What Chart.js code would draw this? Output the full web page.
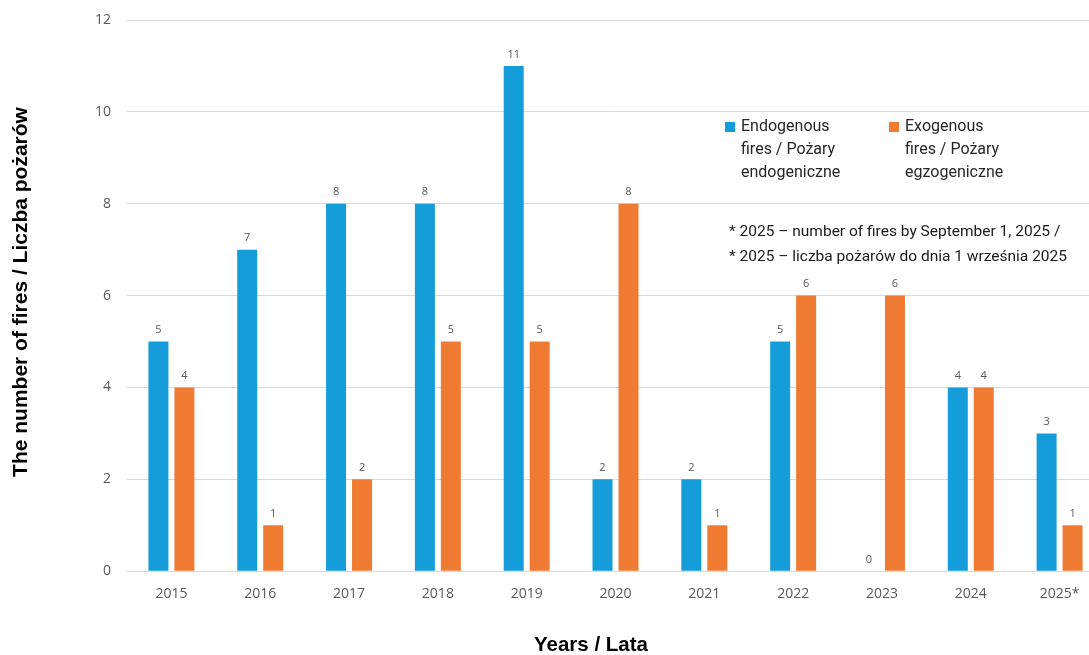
<!DOCTYPE html>
<html>
<head>
<meta charset="utf-8">
<script src="https://cdn.jsdelivr.net/npm/chart.js@4.4.1/dist/chart.umd.min.js"></script>
<style>
  html, body { margin: 0; padding: 0; background: #fff; overflow: hidden; }
  #wrap { width: 1105px; height: 655px; }
</style>
</head>
<body>
<div id="wrap"><canvas id="chart1" width="1105" height="655"></canvas></div>
<script>
// categories and values
const years = ['2015', '2016', '2017', '2018', '2019', '2020', '2021', '2022', '2023', '2024', '2025*'];
const endogenous = [5, 7, 8, 8, 11, 2, 2, 5, 0, 4, 3];
const exogenous = [4, 1, 2, 5, 5, 8, 1, 6, 6, 4, 1];
const yTicks = [0, 2, 4, 6, 8, 10, 12];

const seriesNames = [
    ['Endogenous', 'fires / Pożary', 'endogeniczne'],
    ['Exogenous', 'fires / Pożary', 'egzogeniczne']
];
const footnote = [
    '* 2025 \u2013 number of fires by September 1, 2025 /',
    '* 2025 \u2013 liczba pożarów do dnia 1 września 2025'
];
const yTitle = 'The number of fires / Liczba pożarów';
const xTitle = 'Years / Lata';

const blue = '#149dd8';
const orange = '#ef7b32';
const tickColor = '#595959';

// value labels above bars
const valueLabels = {
    id: 'valueLabels',
    afterDatasetsDraw(chart) {
        const ctx = chart.ctx;
        ctx.save();
        ctx.font = '11px "Open Sans"';
        ctx.fillStyle = tickColor;
        ctx.textAlign = 'center';
        ctx.textBaseline = 'bottom';
        chart.data.datasets.forEach((ds, i) => {
            chart.getDatasetMeta(i).data.forEach((bar, j) => {
                ctx.fillText(ds.data[j], bar.x, bar.y - 6);
            });
        });
        ctx.restore();
    }
};

// legend, footnote and axis titles
const annotations = {
    id: 'annotations',
    afterDraw(chart) {
        const ctx = chart.ctx;
        ctx.save();
        ctx.textBaseline = 'middle';
        ctx.textAlign = 'left';
        ctx.font = '16px Roboto';
        const legendX = [725, 889];
        chart.data.datasets.forEach((ds, i) => {
            ctx.fillStyle = ds.backgroundColor;
            ctx.fillRect(legendX[i], 122, 10, 10);
            ctx.fillStyle = '#262626';
            seriesNames[i].forEach((line, k) => {
                ctx.fillText(line, legendX[i] + 16, 127 + k * 23);
            });
        });
        ctx.font = '15.5px Roboto';
        ctx.fillStyle = '#1a1a1a';
        footnote.forEach((line, k) => {
            ctx.fillText(line, 729, 232 + k * 25);
        });

        ctx.fillStyle = '#000';
        ctx.textAlign = 'center';
        ctx.font = 'bold 20.5px "Liberation Sans"';
        ctx.fillText(xTitle, 591, 645);
        ctx.font = 'bold 21px "Liberation Sans"';
        ctx.translate(21, 292);
        ctx.rotate(-Math.PI / 2);
        ctx.fillText(yTitle, 0, 0);
        ctx.restore();
    }
};

const data = {
    labels: years,
    datasets: [{
        label: seriesNames[0].join(' '),
        data: endogenous,
        backgroundColor: blue
    }, {
        label: seriesNames[1].join(' '),
        data: exogenous,
        backgroundColor: orange
    }]
};

const config = {
    type: 'bar',
    data: data,
    options: {
        responsive: false,
        animation: false,
        categoryPercentage: 0.585,
        barPercentage: 0.77,
        layout: {
            padding: { left: 79, right: 1, top: 20, bottom: 47 }
        },
        scales: {
            x: {
                grid: { display: false },
                border: { color: '#d9d9d9', width: 1 },
                ticks: {
                    color: tickColor,
                    font: { family: 'Open Sans', size: 14 },
                    padding: 6,
                    maxRotation: 0
                }
            },
            y: {
                min: 0,
                max: 12,
                afterBuildTicks(axis) {
                    axis.ticks = yTicks.map(v => ({ value: v }));
                },
                afterFit(axis) {
                    axis.paddingTop = 0;
                    axis.paddingBottom = 0;
                },
                grid: { color: '#d9d9d9', drawTicks: false },
                border: { display: false },
                ticks: {
                    color: tickColor,
                    font: { family: 'Open Sans', size: 14 },
                    padding: 16
                }
            }
        },
        plugins: {
            legend: { display: false },
            tooltip: { enabled: false }
        }
    },
    plugins: [valueLabels, annotations]
};

const chart = document.getElementById('chart1');
new Chart(chart, config);
</script>
</body>
</html>
